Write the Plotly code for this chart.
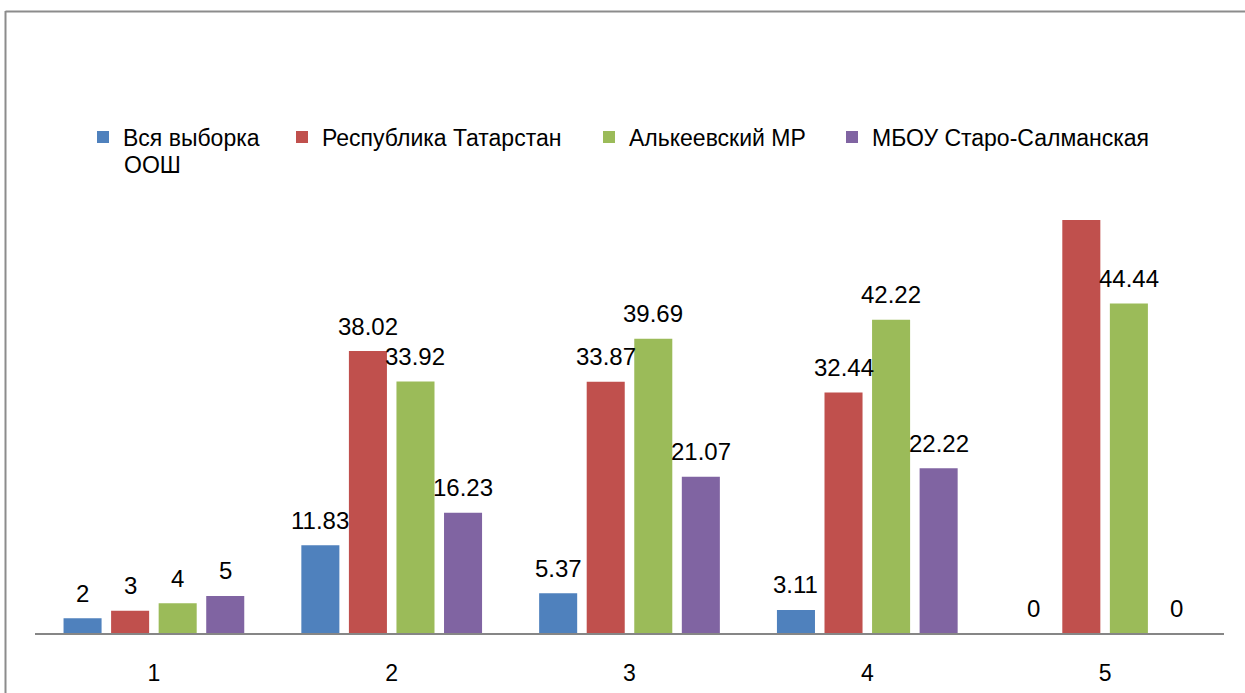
import plotly.graph_objects as go

categories = ["1", "2", "3", "4", "5"]
series_names = ["Вся выборка", "Республика Татарстан", "Алькеевский МР", "МБОУ Старо-Салманская"]
legend_wrap = "ООШ"
vsya = [2, 11.83, 5.37, 3.11, 0]
respublika = [3, 38.02, 33.87, 32.44, 55.7]
alkeevsky = [4, 33.92, 39.69, 42.22, 44.44]
mbou = [5, 16.23, 21.07, 22.22, 0]
# data labels as shown (the label of the last red bar is not displayed)
vsya_labels = ["2", "11.83", "5.37", "3.11", "0"]
respublika_labels = ["3", "38.02", "33.87", "32.44", ""]
alkeevsky_labels = ["4", "33.92", "39.69", "42.22", "44.44"]
mbou_labels = ["5", "16.23", "21.07", "22.22", "0"]
colors = ["#4F81BD", "#C0504D", "#9BBB59", "#8064A2"]

W, H = 1245, 693
L, R, T, B = 35, 21, 188, 60
pw, ph = W - L - R, H - T - B

FONT = "Liberation Sans"
LABEL_SIZE = 24
TEXT_SIZE = 23

BARGAP = 0.2
BARGROUPGAP = 0.2
n_series = 4
slot = (1 - BARGAP) / n_series

xpos = list(range(1, len(categories) + 1))

def px_x(x):
    return (x - L) / pw

def px_y(y):
    return (H - B - y) / ph

legend_text_x = [123, 322, 629, 872]
legend_keys = ["legend", "legend2", "legend3", "legend4"]

fig = go.Figure()
annotations = []
all_vals = [vsya, respublika, alkeevsky, mbou]
all_labels = [vsya_labels, respublika_labels, alkeevsky_labels, mbou_labels]
for i, (name, vals, labs, c, lk) in enumerate(zip(series_names, all_vals, all_labels, colors, legend_keys)):
    fig.add_trace(go.Bar(
        x=xpos, y=vals, name=name, legend=lk,
        marker=dict(color=c, line=dict(width=0)),
        hoverinfo="skip",
    ))
    off = (i - (n_series - 1) / 2) * slot
    for xv, v, lab in zip(xpos, vals, labs):
        if lab == "":
            continue
        annotations.append(dict(
            text=lab, x=xv + off, y=v, xref="x", yref="y",
            xanchor="center", yanchor="middle", yshift=25, showarrow=False,
            font=dict(family=FONT, size=LABEL_SIZE, color="#000000"),
        ))

annotations.append(dict(text=legend_wrap, xref="paper", yref="paper", x=px_x(122), y=px_y(165),
                        xanchor="left", yanchor="middle", showarrow=False,
                        font=dict(family=FONT, size=TEXT_SIZE, color="#000000")))

legend_layouts = {}
for lk, tx in zip(legend_keys, legend_text_x):
    legend_layouts[lk] = dict(
        orientation="h", x=px_x(tx - 40), y=px_y(137), xanchor="left", yanchor="middle",
        font=dict(family=FONT, size=TEXT_SIZE, color="#000000"),
        bgcolor="rgba(0,0,0,0)", itemclick=False, borderwidth=0,
    )

fig.update_layout(
    width=W, height=H,
    margin=dict(l=L, r=R, t=T, b=B, autoexpand=False),
    paper_bgcolor="white", plot_bgcolor="white",
    barmode="group", bargap=BARGAP, bargroupgap=BARGROUPGAP,
    font=dict(family=FONT, size=TEXT_SIZE, color="#000000"),
    showlegend=True,
    xaxis=dict(range=[0.5, len(categories) + 0.5], tickvals=xpos, ticktext=categories,
               showgrid=False, showline=True, linecolor="#868686", linewidth=2,
               ticks="", tickfont=dict(family=FONT, size=TEXT_SIZE, color="#000000"),
               ticklabelstandoff=18, zeroline=False, fixedrange=True),
    yaxis=dict(range=[0, 60], visible=False, showgrid=False, zeroline=False, fixedrange=True),
    annotations=annotations,
    shapes=[
        dict(type="line", xref="paper", yref="paper", x0=px_x(5.5), x1=px_x(5.5), y0=px_y(11), y1=px_y(700),
             line=dict(color="#8C8C8C", width=2)),
        dict(type="line", xref="paper", yref="paper", x0=px_x(5.5), x1=px_x(1260), y0=px_y(11.5), y1=px_y(11.5),
             line=dict(color="#8C8C8C", width=2)),
    ],
    **legend_layouts,
)

fig.write_html("out.html", config={"displayModeBar": False},
               post_script="document.body.style.margin='0px';")
